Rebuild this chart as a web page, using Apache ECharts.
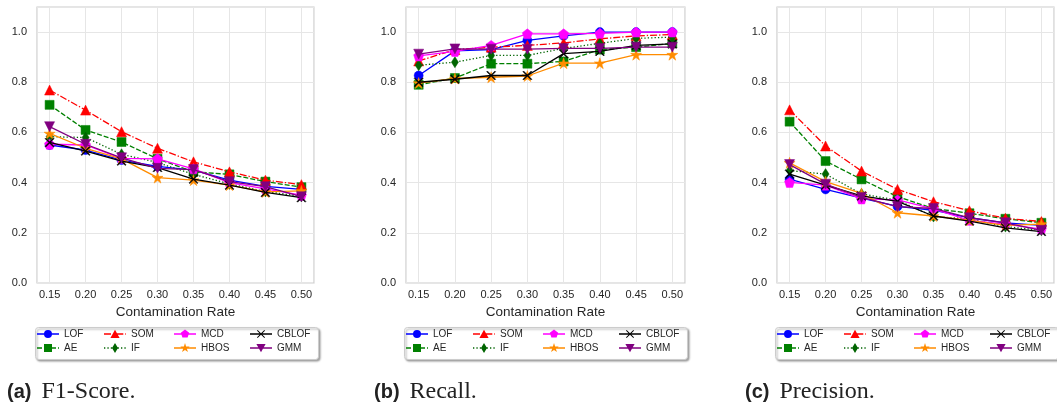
<!DOCTYPE html>
<html>
<head>
<meta charset="utf-8">
<script src="https://cdn.jsdelivr.net/npm/echarts@6/dist/echarts.min.js"></script>
<style>
html,body{margin:0;padding:0;background:#fff;}
#chart{width:1057px;height:407px;}
</style>
</head>
<body>
<div id="chart"></div>
<script>
// ---- data ----
const categories = [0.15, 0.20, 0.25, 0.30, 0.35, 0.40, 0.45, 0.50];
const xTickLabels = ['0.15','0.20','0.25','0.30','0.35','0.40','0.45','0.50'];
const yTickLabels = ['0.0','0.2','0.4','0.6','0.8','1.0'];
const methods = ['LOF','AE','SOM','IF','MCD','HBOS','CBLOF','GMM'];
const xAxisTitle = 'Contamination Rate';
const captionTags = ['(a)','(b)','(c)'];
const captionTexts = ['F1-Score.','Recall.','Precision.'];

// F1-Score
const f1LOF   = [0.550, 0.530, 0.490, 0.465, 0.450, 0.410, 0.385, 0.373];
const f1AE    = [0.710, 0.610, 0.562, 0.495, 0.443, 0.433, 0.404, 0.382];
const f1SOM   = [0.769, 0.689, 0.603, 0.537, 0.483, 0.443, 0.410, 0.392];
const f1IF    = [0.583, 0.580, 0.513, 0.480, 0.433, 0.395, 0.365, 0.345];
const f1MCD   = [0.553, 0.550, 0.497, 0.495, 0.455, 0.400, 0.375, 0.350];
const f1HBOS  = [0.596, 0.537, 0.495, 0.420, 0.410, 0.390, 0.363, 0.367];
const f1CBLOF = [0.560, 0.526, 0.486, 0.460, 0.414, 0.390, 0.361, 0.340];
const f1GMM   = [0.623, 0.553, 0.499, 0.457, 0.452, 0.404, 0.384, 0.344];

// Recall
const recLOF   = [0.827, 0.925, 0.930, 0.967, 0.985, 1.000, 1.000, 1.000];
const recAE    = [0.790, 0.817, 0.874, 0.874, 0.883, 0.930, 0.940, 0.955];
const recSOM   = [0.885, 0.930, 0.940, 0.947, 0.957, 0.973, 0.985, 0.990];
const recIF    = [0.868, 0.880, 0.907, 0.907, 0.935, 0.955, 0.975, 0.980];
const recMCD   = [0.905, 0.923, 0.947, 0.993, 0.993, 0.995, 1.000, 1.000];
const recHBOS  = [0.797, 0.815, 0.820, 0.825, 0.876, 0.876, 0.910, 0.910];
const recCBLOF = [0.800, 0.812, 0.827, 0.827, 0.914, 0.923, 0.947, 0.953];
const recGMM   = [0.912, 0.933, 0.932, 0.932, 0.935, 0.935, 0.940, 0.940];

// Precision
const preLOF   = [0.414, 0.373, 0.338, 0.305, 0.290, 0.260, 0.240, 0.230];
const preAE    = [0.643, 0.486, 0.413, 0.344, 0.297, 0.278, 0.256, 0.240];
const preSOM   = [0.690, 0.546, 0.446, 0.373, 0.324, 0.288, 0.258, 0.245];
const preIF    = [0.448, 0.434, 0.355, 0.330, 0.265, 0.255, 0.225, 0.210];
const preMCD   = [0.401, 0.390, 0.335, 0.331, 0.295, 0.250, 0.235, 0.215];
const preHBOS  = [0.479, 0.404, 0.357, 0.280, 0.267, 0.250, 0.230, 0.235];
const preCBLOF = [0.434, 0.390, 0.347, 0.325, 0.267, 0.247, 0.220, 0.205];
const preGMM   = [0.472, 0.394, 0.341, 0.304, 0.297, 0.260, 0.240, 0.210];

const panelData = [
  {LOF:f1LOF, AE:f1AE, SOM:f1SOM, IF:f1IF, MCD:f1MCD, HBOS:f1HBOS, CBLOF:f1CBLOF, GMM:f1GMM},
  {LOF:recLOF, AE:recAE, SOM:recSOM, IF:recIF, MCD:recMCD, HBOS:recHBOS, CBLOF:recCBLOF, GMM:recGMM},
  {LOF:preLOF, AE:preAE, SOM:preSOM, IF:preIF, MCD:preMCD, HBOS:preHBOS, CBLOF:preCBLOF, GMM:preGMM}
];

// ---- styles ----
const lw = 1.3;
const STAR = 'path://M10,0 L12.25,6.91 L19.51,6.91 L13.63,11.18 L15.88,18.09 L10,13.82 L4.12,18.09 L6.37,11.18 L0.49,6.91 L7.75,6.91 Z';
const PENT = 'path://M5,0 L10,3.63 L8.09,9.5 L1.91,9.5 L0,3.63 Z';
const XMARK = 'path://M0,0.8 L0.8,0 L5,4.2 L9.2,0 L10,0.8 L5.8,5 L10,9.2 L9.2,10 L5,5.8 L0.8,10 L0,9.2 L4.2,5 Z';
const styles = {
  LOF:   {color:'#0000ff', dash:'solid', symbol:'circle', size:9, rot:0},
  AE:    {color:'#008000', dash:[5,2], symbol:'rect', size:9, rot:0},
  SOM:   {color:'#ff0000', dash:[7,2,1.3,2], symbol:'triangle', size:10, rot:0},
  IF:    {color:'#006400', dash:[1.3,2.1], symbol:'diamond', size:[7,11], rot:0},
  MCD:   {color:'#ff00ff', dash:'solid', symbol:PENT, size:10, rot:0},
  HBOS:  {color:'#ff8c00', dash:'solid', symbol:STAR, size:11, rot:0},
  CBLOF: {color:'#000000', dash:'solid', symbol:XMARK, size:9, rot:0},
  GMM:   {color:'#800080', dash:'solid', symbol:'triangle', size:10, rot:180}
};

// legend icons: line sample + marker drawn in a 22x10 box
function linePieces(pattern) {
  const y0 = 4.35, y1 = 5.65;
  let out = '';
  if (pattern === 'solid') {
    return 'M0,' + y0 + ' L22,' + y0 + ' L22,' + y1 + ' L0,' + y1 + ' Z ';
  }
  let x = 0, k = 0;
  while (x < 22) {
    const len = pattern[k % pattern.length];
    if (k % 2 === 0) {
      const xe = Math.min(22, x + len);
      out += 'M' + x.toFixed(2) + ',' + y0 + ' L' + xe.toFixed(2) + ',' + y0 + ' L' + xe.toFixed(2) + ',' + y1 + ' L' + x.toFixed(2) + ',' + y1 + ' Z ';
    }
    x += len; k++;
  }
  return out;
}
const iconMarkers = {
  LOF:   'M15,5 A4,4 0 1 1 7,5 A4,4 0 1 1 15,5 Z',
  AE:    'M7,1 L15,1 L15,9 L7,9 Z',
  SOM:   'M11,0.8 L15.6,9 L6.4,9 Z',
  IF:    'M11,0 L14,5 L11,10 L8,5 Z',
  MCD:   'M11,0.6 L15.18,3.64 L13.59,8.56 L8.41,8.56 L6.82,3.64 Z',
  HBOS:  'M11,0 L12.13,3.46 L15.76,3.46 L12.82,5.59 L13.94,9.05 L11,6.91 L8.06,9.05 L9.19,5.59 L6.25,3.46 L9.88,3.46 Z',
  CBLOF: 'M7,1.64 L7.64,1 L11,4.36 L14.36,1 L15,1.64 L11.64,5 L15,8.36 L14.36,9 L11,5.64 L7.64,9 L7,8.36 L10.36,5 Z',
  GMM:   'M6.4,1 L15.6,1 L11,9.2 Z'
};
const CORNERS = 'M0,0 L0.01,0 L0,0.01 Z M22,10 L21.99,10 L22,9.99 Z ';
function legendIcon(m) {
  return 'path://' + CORNERS + linePieces(styles[m].dash) + iconMarkers[m];
}

const FONT = 'Liberation Sans, Arial, sans-serif';
const plotLefts = [37, 406, 777];
const plotWidths = [277, 279, 279];
const plotTop = 7, plotHeight = 276;

const grids = [], xAxes = [], yAxes = [], series = [], legends = [], titles = [], graphics = [];

for (let p = 0; p < 3; p++) {
  grids.push({left: plotLefts[p], top: plotTop, width: plotWidths[p], height: plotHeight,
    show: true, borderColor: '#cccccc', borderWidth: 1.2, backgroundColor: '#ffffff'});
  xAxes.push({
    type: 'value', gridIndex: p, min: 0.1325, max: 0.5175,
    minInterval: 0.05, maxInterval: 0.05, splitNumber: 8,
    axisLine: {show: false}, axisTick: {show: false},
    axisLabel: {
      margin: 6, fontSize: 11, color: '#262626', fontFamily: FONT,
      formatter: function (v) {
        const i = categories.findIndex(c => Math.abs(c - v) < 1e-6);
        return i >= 0 ? xTickLabels[i] : '';
      }
    },
    splitLine: {show: true, lineStyle: {color: '#e6e6e6', width: 1}},
    name: xAxisTitle, nameLocation: 'middle', nameGap: 19,
    nameTextStyle: {fontSize: 13.5, color: '#262626', fontFamily: FONT}
  });
  yAxes.push({
    type: 'value', gridIndex: p, min: 0, max: 1.1,
    minInterval: 0.2, maxInterval: 0.2,
    axisLine: {show: false}, axisTick: {show: false},
    axisLabel: {
      margin: 10, fontSize: 11, color: '#262626', fontFamily: FONT,
      formatter: function (v) {
        const i = Math.round(v / 0.2);
        return (Math.abs(v - i * 0.2) < 1e-6 && i < yTickLabels.length) ? yTickLabels[i] : '';
      }
    },
    splitLine: {show: true, lineStyle: {color: '#e6e6e6', width: 1}}
  });
  methods.forEach((m, k) => {
    const s = styles[m];
    series.push({
      type: 'line', name: m, xAxisIndex: p, yAxisIndex: p,
      data: categories.map((c, i) => [c, panelData[p][m][i]]),
      symbol: s.symbol, symbolSize: s.size, symbolRotate: s.rot,
      showAllSymbol: true,
      lineStyle: {color: s.color, width: lw, type: s.dash},
      itemStyle: {color: s.color, borderColor: s.color, borderWidth: 0.5},
      emphasis: {disabled: true},
      z: 2 + k, animation: false
    });
  });
  // legend frame
  const off = plotLefts[p] - 37;
  graphics.push({
    type: 'rect', left: 35 + off, top: 327, z: 0,
    shape: {width: 283, height: 32, r: 3},
    style: {fill: '#ffffff', stroke: '#cccccc', lineWidth: 1,
      shadowBlur: 2, shadowOffsetX: 1.5, shadowOffsetY: 1.5, shadowColor: 'rgba(0,0,0,0.35)'}
  });
  const colLefts = [37, 104, 174, 250];
  for (let c = 0; c < 4; c++) {
    legends.push({
      data: [methods[2 * c], methods[2 * c + 1]].map(m => ({name: m, icon: legendIcon(m)})),
      orient: 'vertical', left: colLefts[c] + off, top: 329,
      itemWidth: 22, itemHeight: 10, itemGap: 4, padding: 0,
      symbolRotate: 0, symbolKeepAspect: true,
      itemStyle: {borderWidth: 0},
      selectedMode: false,
      textStyle: {fontSize: 10, color: '#262626', fontFamily: FONT}
    });
  }
  titles.push({
    text: '{b|' + captionTags[p] + '}{n|' + captionTexts[p] + '}',
    left: [7, 374, 745][p], top: 380, padding: 0,
    textStyle: {
      rich: {
        b: {fontFamily: FONT, fontWeight: 'bold', fontSize: 20, color: '#222'},
        n: {fontFamily: 'Liberation Serif, Times New Roman, serif', fontWeight: 'normal', fontSize: 24, color: '#222', padding: [0, 0, 0, 10]}
      }
    }
  });
}

const chart = echarts.init(document.getElementById('chart'), null, {renderer: 'canvas'});
chart.setOption({
  animation: false,
  backgroundColor: '#ffffff',
  title: titles,
  grid: grids,
  xAxis: xAxes,
  yAxis: yAxes,
  legend: legends,
  graphic: graphics,
  series: series
});
</script>
</body>
</html>
